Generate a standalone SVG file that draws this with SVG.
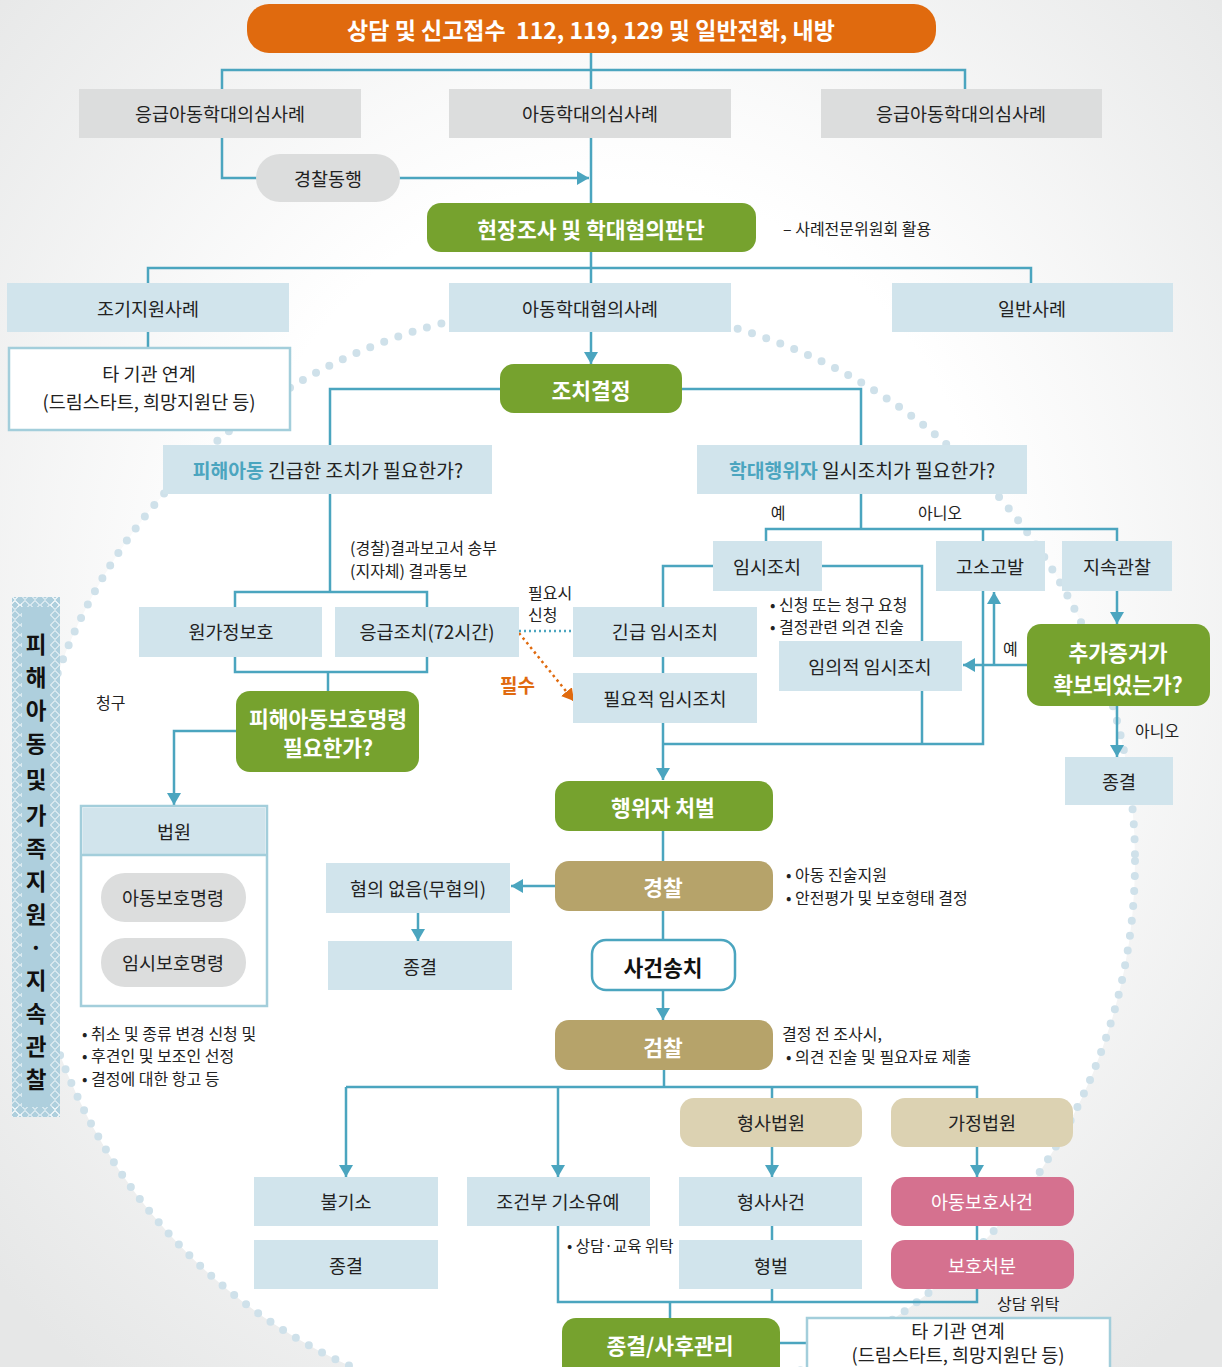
<svg xmlns="http://www.w3.org/2000/svg" width="1222" height="1367" viewBox="0 0 1222 1367">
<defs>
<radialGradient id="bg" cx="50%" cy="45%" r="70%">
<stop offset="0.45" stop-color="#ffffff"/>
<stop offset="1" stop-color="#e6e7e7"/>
</radialGradient>
<marker id="ar" viewBox="0 0 12 14" refX="12" refY="7" markerWidth="12" markerHeight="14" markerUnits="userSpaceOnUse" orient="auto">
<path d="M0,0 L12,7 L0,14 z" fill="#4ba5bf"/>
</marker>
<marker id="ao" viewBox="0 0 12 14" refX="12" refY="7" markerWidth="12" markerHeight="14" markerUnits="userSpaceOnUse" orient="auto">
<path d="M0,0 L12,7 L0,14 z" fill="#e06a0e"/>
</marker>
<pattern id="zz" x="0" y="0" width="10" height="10" patternUnits="userSpaceOnUse">
<path d="M5,0.5 L9.5,5 L5,9.5 L0.5,5 Z" fill="none" stroke="#ffffff" stroke-width="1"/>
</pattern>
</defs>
<style>
text{font-family:"Noto Sans CJK KR","Liberation Sans",sans-serif;fill:#222;}
.c{text-anchor:middle;dominant-baseline:central;font-size:18.5px;}
.n{font-size:16px;dominant-baseline:central;}
.w{fill:#ffffff;font-weight:bold;font-size:21.5px;}
.gray{fill:#dcdddd;}
.lb{fill:#d1e4ec;}
.grn{fill:#76a22e;}
.tan{fill:#b6a36a;}
.ltan{fill:#dcd2b2;}
.pink{fill:#d5718f;}
.frame{fill:#ffffff;stroke:#a3cedb;stroke-width:2.5;}
.ln{fill:none;stroke:#4ba5bf;stroke-width:2.5;}
.tl{fill:#4ba5bf;font-weight:bold;}
.lab{text-anchor:middle;dominant-baseline:central;font-size:22.5px;font-weight:bold;fill:#111;}
</style>

<rect x="0" y="0" width="1222" height="1367" fill="url(#bg)"/>
<circle cx="580" cy="861" r="555" fill="#ffffff" stroke="#cfe1ea" stroke-width="8" stroke-dasharray="0 15" stroke-linecap="round"/>

<g id="side-label">
<rect x="12" y="597" width="48" height="520" fill="#aecfdd"/>
<rect x="12" y="597" width="10" height="520" fill="url(#zz)"/>
<rect x="50" y="597" width="10" height="520" fill="url(#zz)"/>
<rect x="12" y="597" width="48" height="10" fill="url(#zz)"/>
<rect x="12" y="1107" width="48" height="10" fill="url(#zz)"/>
<text class="lab"><tspan x="36" y="643">피</tspan><tspan x="36" y="676">해</tspan><tspan x="36" y="709">아</tspan><tspan x="36" y="742">동</tspan><tspan x="36" y="778">및</tspan><tspan x="36" y="814">가</tspan><tspan x="36" y="847">족</tspan><tspan x="36" y="880">지</tspan><tspan x="36" y="913">원</tspan><tspan x="36" y="946">·</tspan><tspan x="36" y="979">지</tspan><tspan x="36" y="1012">속</tspan><tspan x="36" y="1045">관</tspan><tspan x="36" y="1078">찰</tspan></text>
</g>

<g id="connectors">
<path class="ln" d="M591,53 V203"/>
<path class="ln" d="M222,89 V70 H965 V89"/>
<path class="ln" d="M222,138 V178 H589" marker-end="url(#ar)"/>
<path class="ln" d="M591,252 V283"/>
<path class="ln" d="M148,283 V268 H1031 V283"/>
<path class="ln" d="M148,332 V348"/>
<path class="ln" d="M591,332 V364" marker-end="url(#ar)"/>
<path class="ln" d="M500,389 H330 V445"/>
<path class="ln" d="M682,389 H861 V445"/>
<path class="ln" d="M330,494 V592"/>
<path class="ln" d="M235,607 V592 H427 V607"/>
<path class="ln" d="M235,657 V672 H427 V657"/>
<path class="ln" d="M328,672 V691"/>
<path class="ln" d="M236,731 H174 V805" marker-end="url(#ar)"/>
<path d="M174,925 V936" fill="none" stroke="#3b8cc9" stroke-width="2" stroke-dasharray="2 3"/>
<path d="M519,631 H573" fill="none" stroke="#4ba5bf" stroke-width="2.5" stroke-dasharray="2 3"/>
<path d="M519,633 L574,701" fill="none" stroke="#e06a0e" stroke-width="2.5" stroke-dasharray="2.5 3.5" marker-end="url(#ao)"/>
<path class="ln" d="M861,494 V529"/>
<path class="ln" d="M766,541 V529 H1117 V541"/>
<path class="ln" d="M983,529 V541"/>
<path class="ln" d="M713,566 H663 V780" marker-end="url(#ar)"/>
<path class="ln" d="M822,566 H922 V744"/>
<path class="ln" d="M663,744 H983 V591"/>
<path class="ln" d="M1027,665 H963" marker-end="url(#ar)"/>
<path class="ln" d="M994,665 V592" marker-end="url(#ar)"/>
<path class="ln" d="M1117,591 V624" marker-end="url(#ar)"/>
<path class="ln" d="M1117,706 V757" marker-end="url(#ar)"/>
<path class="ln" d="M663,830 V861"/>
<path class="ln" d="M555,886 H511" marker-end="url(#ar)"/>
<path class="ln" d="M418,913 V941" marker-end="url(#ar)"/>
<path class="ln" d="M663,911 V940"/>
<path class="ln" d="M663,990 V1020" marker-end="url(#ar)"/>
<path class="ln" d="M664,1070 V1087"/>
<path class="ln" d="M346,1087 H977 V1098"/>
<path class="ln" d="M346,1087 V1177" marker-end="url(#ar)"/>
<path class="ln" d="M558,1087 V1177" marker-end="url(#ar)"/>
<path class="ln" d="M772,1087 V1098"/>
<path class="ln" d="M772,1147 V1177" marker-end="url(#ar)"/>
<path class="ln" d="M977,1147 V1177" marker-end="url(#ar)"/>
<path class="ln" d="M772,1226 V1240"/>
<path class="ln" d="M977,1226 V1240"/>
<path class="ln" d="M558,1226 V1302 H977 V1289"/>
<path class="ln" d="M772,1289 V1302"/>
<path class="ln" d="M670,1302 V1318"/>
<path class="ln" d="M780,1343 H807"/>
</g>

<g id="n-top"><rect x="247" y="4" width="689" height="49" rx="22" fill="#e06a0e"/>
<text class="c w" x="591" y="29" style="font-size:23px;white-space:pre">상담 및 신고접수  112, 119, 129 및 일반전화, 내방</text></g>
<g id="n-g1"><rect class="gray" x="79" y="89" width="282" height="49"/><text class="c" x="220" y="113">응급아동학대의심사례</text></g>
<g id="n-g2"><rect class="gray" x="449" y="89" width="282" height="49"/><text class="c" x="590" y="113">아동학대의심사례</text></g>
<g id="n-g3"><rect class="gray" x="821" y="89" width="281" height="49"/><text class="c" x="961" y="113">응급아동학대의심사례</text></g>
<g id="n-escort"><rect class="gray" x="256" y="154" width="144" height="48" rx="24"/><text class="c" x="328" y="178">경찰동행</text></g>
<g id="n-invest"><rect class="grn" x="427" y="203" width="329" height="49" rx="14"/><text class="c w" x="591" y="228">현장조사 및 학대혐의판단</text></g>
<text class="n" x="783" y="228">– 사례전문위원회 활용</text>
<g id="n-early"><rect class="lb" x="7" y="283" width="282" height="49"/><text class="c" x="148" y="308">조기지원사례</text></g>
<g id="n-suspect"><rect class="lb" x="449" y="283" width="282" height="49"/><text class="c" x="590" y="308">아동학대혐의사례</text></g>
<g id="n-general"><rect class="lb" x="892" y="283" width="281" height="49"/><text class="c" x="1032" y="308">일반사례</text></g>
<g id="n-link1"><rect class="frame" x="9" y="348" width="281" height="82"/><text class="c" x="149" y="373">타 기관 연계</text><text class="c" x="149" y="401">(드림스타트, 희망지원단 등)</text></g>
<g id="n-decide"><rect class="grn" x="500" y="364" width="182" height="49" rx="14"/><text class="c w" x="591" y="389">조치결정</text></g>
<g id="n-victimQ"><rect class="lb" x="163" y="445" width="329" height="49"/><text class="c" x="328" y="470" style="font-size:19.3px"><tspan class="tl">피해아동</tspan> 긴급한 조치가 필요한가?</text></g>
<g id="n-offenderQ"><rect class="lb" x="697" y="445" width="330" height="49"/><text class="c" x="862" y="470" style="font-size:19.3px"><tspan class="tl">학대행위자</tspan> 일시조치가 필요한가?</text></g>
<text class="n" x="350" y="547">(경찰)결과보고서 송부</text>
<text class="n" x="350" y="570">(지자체) 결과통보</text>
<g id="n-home"><rect class="lb" x="139" y="607" width="183" height="50"/><text class="c" x="231" y="631">원가정보호</text></g>
<g id="n-emerg"><rect class="lb" x="335" y="607" width="184" height="50"/><text class="c" x="427" y="631">응급조치(72시간)</text></g>
<text class="n" x="528" y="592">필요시</text>
<text class="n" x="528" y="614">신청</text>
<text class="n" x="500" y="684" style="fill:#e06a0e;font-weight:bold;font-size:19px">필수</text>
<g id="n-tempUrgent"><rect class="lb" x="573" y="607" width="184" height="50"/><text class="c" x="665" y="631">긴급 임시조치</text></g>
<g id="n-tempReq"><rect class="lb" x="573" y="673" width="184" height="50"/><text class="c" x="665" y="698">필요적 임시조치</text></g>
<g id="n-protQ"><rect class="grn" x="236" y="691" width="183" height="81" rx="14"/><text class="c w" x="328" y="717">피해아동보호명령</text><text class="c w" x="328" y="746">필요한가?</text></g>
<text class="n" x="96" y="702">청구</text>
<g id="n-court"><rect class="frame" x="81" y="806" width="186" height="200"/><rect class="lb" x="82.5" y="807.5" width="183" height="47"/><path d="M81,855 H267" stroke="#a3cedb" stroke-width="2.5"/><text class="c" x="174" y="831">법원</text>
<rect class="gray" x="101" y="873" width="145" height="49" rx="24"/><text class="c" x="173" y="897">아동보호명령</text>
<rect class="gray" x="101" y="938" width="145" height="49" rx="24"/><text class="c" x="173" y="962">임시보호명령</text></g>
<text class="n" x="82" y="1033">• 취소 및 종류 변경 신청 및</text>
<text class="n" x="82" y="1055">• 후견인 및 보조인 선정</text>
<text class="n" x="82" y="1078">• 결정에 대한 항고 등</text>
<text class="n" x="778" y="512" style="text-anchor:middle">예</text>
<text class="n" x="940" y="512" style="text-anchor:middle">아니오</text>
<g id="n-temp"><rect class="lb" x="713" y="541" width="109" height="50"/><text class="c" x="767" y="566">임시조치</text></g>
<g id="n-complaint"><rect class="lb" x="936" y="541" width="109" height="50"/><text class="c" x="990" y="566">고소고발</text></g>
<g id="n-watch"><rect class="lb" x="1062" y="541" width="110" height="50"/><text class="c" x="1117" y="566">지속관찰</text></g>
<text class="n" x="770" y="604">• 신청 또는 청구 요청</text>
<text class="n" x="770" y="626">• 결정관련 의견 진술</text>
<g id="n-tempDisc"><rect class="lb" x="779" y="641" width="183" height="50"/><text class="c" x="870" y="666">임의적 임시조치</text></g>
<text class="n" x="1003" y="648">예</text>
<g id="n-evidence"><rect class="grn" x="1027" y="624" width="183" height="82" rx="14"/><text class="c w" x="1118" y="651">추가증거가</text><text class="c w" x="1118" y="683">확보되었는가?</text></g>
<text class="n" x="1135" y="730">아니오</text>
<g id="n-end1"><rect class="lb" x="1065" y="757" width="108" height="48"/><text class="c" x="1119" y="781">종결</text></g>
<g id="n-punish"><rect class="grn" x="555" y="781" width="218" height="50" rx="14"/><text class="c w" x="663" y="806">행위자 처벌</text></g>
<g id="n-police"><rect class="tan" x="555" y="861" width="218" height="50" rx="14"/><text class="c w" x="663" y="886">경찰</text></g>
<text class="n" x="786" y="874">• 아동 진술지원</text>
<text class="n" x="786" y="897">• 안전평가 및 보호형태 결정</text>
<g id="n-noSus"><rect class="lb" x="326" y="863" width="184" height="50"/><text class="c" x="418" y="888">혐의 없음(무혐의)</text></g>
<g id="n-end2"><rect class="lb" x="328" y="941" width="184" height="49"/><text class="c" x="420" y="966">종결</text></g>
<g id="n-transfer"><rect x="592" y="940" width="143" height="50" rx="14" fill="#ffffff" stroke="#4ba5bf" stroke-width="2.5"/><text class="c" x="663" y="966" style="font-weight:bold;font-size:21.5px;fill:#111">사건송치</text></g>
<g id="n-prosec"><rect class="tan" x="555" y="1020" width="218" height="50" rx="14"/><text class="c w" x="663" y="1046">검찰</text></g>
<text class="n" x="782" y="1033">결정 전 조사시,</text>
<text class="n" x="786" y="1056">• 의견 진술 및 필요자료 제출</text>
<g id="n-crimCourt"><rect class="ltan" x="680" y="1098" width="182" height="49" rx="14"/><text class="c" x="771" y="1122">형사법원</text></g>
<g id="n-famCourt"><rect class="ltan" x="891" y="1098" width="182" height="49" rx="14"/><text class="c" x="982" y="1122">가정법원</text></g>
<g id="n-nonIndict"><rect class="lb" x="254" y="1177" width="184" height="49"/><text class="c" x="346" y="1201">불기소</text></g>
<g id="n-end3"><rect class="lb" x="254" y="1240" width="184" height="49"/><text class="c" x="346" y="1265">종결</text></g>
<g id="n-defer"><rect class="lb" x="467" y="1177" width="183" height="49"/><text class="c" x="558" y="1201">조건부 기소유예</text></g>
<text class="n" x="567" y="1245" style="font-size:15.5px">• 상담·교육 위탁</text>
<g id="n-crimCase"><rect class="lb" x="679" y="1177" width="183" height="49"/><text class="c" x="771" y="1201">형사사건</text></g>
<g id="n-penalty"><rect class="lb" x="679" y="1240" width="183" height="49"/><text class="c" x="771" y="1265">형벌</text></g>
<g id="n-childCase"><rect class="pink" x="891" y="1177" width="183" height="49" rx="14"/><text class="c" x="982" y="1201" style="fill:#ffffff">아동보호사건</text></g>
<g id="n-disposition"><rect class="pink" x="891" y="1240" width="183" height="49" rx="14"/><text class="c" x="982" y="1265" style="fill:#ffffff">보호처분</text></g>
<text class="n" x="997" y="1303">상담 위탁</text>
<g id="n-close"><rect class="grn" x="562" y="1318" width="218" height="62" rx="14"/><text class="c w" x="670" y="1344">종결/사후관리</text></g>
<g id="n-link2"><rect class="frame" x="807" y="1318" width="303" height="60"/><text class="c" x="958" y="1330">타 기관 연계</text><text class="c" x="958" y="1354">(드림스타트, 희망지원단 등)</text></g>
</svg>
